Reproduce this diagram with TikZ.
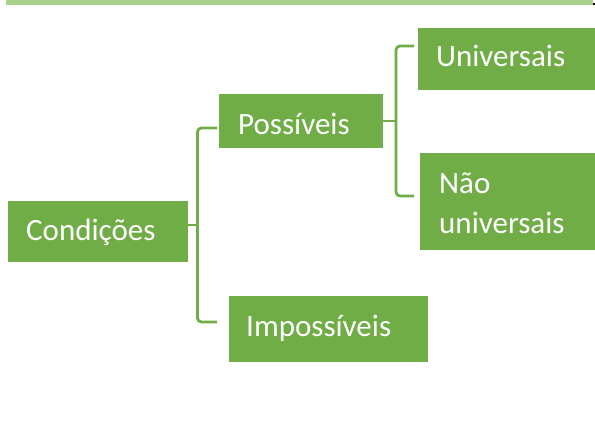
\documentclass[tikz,border=0pt]{standalone}
\usepackage{fontspec}
\setmainfont{Carlito}
\definecolor{smgreen}{HTML}{70AD47}
\definecolor{barlight}{HTML}{A9D18E}
\begin{document}
\begin{tikzpicture}[x=1pt,y=-1pt,
  box/.style={draw=none,fill=smgreen,rectangle,anchor=north west,inner sep=0pt},
  lbl/.style={text=white,anchor=base west,inner sep=0pt,font=\fontsize{31}{40}\selectfont},
  conn/.style={draw=smgreen,line width=2.8pt,rounded corners=4pt}]
\useasboundingbox (0,0) rectangle (595,432);
\fill[barlight] (6,0) rectangle (593,4.7);
\fill[black] (592.5,3.2) rectangle (595,5);
% boxes
\node[box,minimum width=180,minimum height=61] (cond) at (8,201) {};
\node[box,minimum width=164,minimum height=54] (poss) at (219,94) {};
\node[box,minimum width=199,minimum height=66] (imp) at (229,296) {};
\node[box,minimum width=177,minimum height=62] (univ) at (418,28) {};
\node[box,minimum width=175,minimum height=97] (nuniv) at (420,153) {};
% texts
\node[lbl] (tcond) at (26,240) {Condições};
\node[lbl] (tposs) at (238,134.3) {Possíveis};
\node[lbl] (timp) at (246,336.7) {Impossíveis};
\node[lbl] (tuniv) at (436,66.7) {Universais};
\node[lbl] (tnao) at (439,193.3) {Não};
\node[lbl] (tnuniv) at (439,233) {universais};
% bracket 1
\coordinate (b1) at (197.5,225);
\coordinate (b1t) at (217,128);
\coordinate (b1b) at (217,322);
\draw[conn] (b1t) -| (b1) |- (b1b);
\draw[conn,rounded corners=0pt] (cond.east |- b1) -- (b1);
% bracket 2
\coordinate (b2) at (396,121);
\coordinate (b2t) at (414,46);
\coordinate (b2b) at (414,196);
\draw[conn] (b2t) -| (b2) |- (b2b);
\draw[conn,rounded corners=0pt] (poss.east |- b2) -- (b2);
\end{tikzpicture}
\end{document}
